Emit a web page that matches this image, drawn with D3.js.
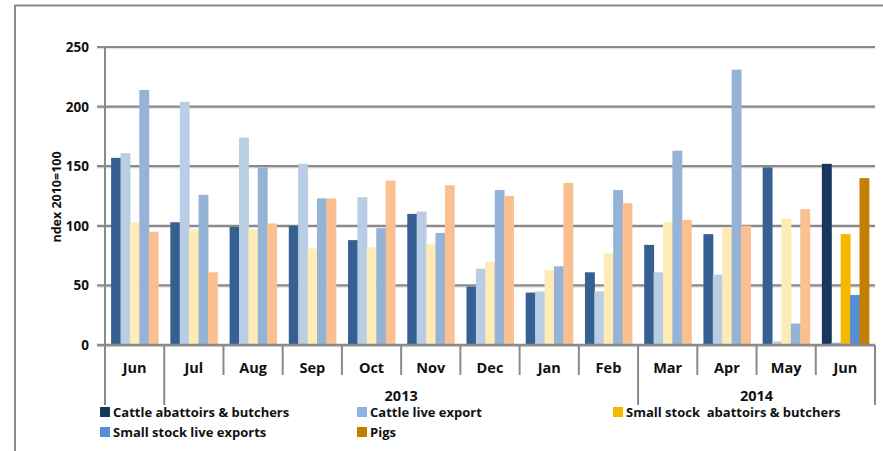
<!DOCTYPE html>
<html>
<head>
<meta charset="utf-8">
<script src="https://cdn.jsdelivr.net/npm/d3@7"></script>
<style>
body { margin: 0; background: #fff; }
text { font-family: "Open Sans", Lato, sans-serif; font-weight: 700; fill: #111; }
</style>
</head>
<body>
<svg id="chart" width="883" height="451"></svg>
<script>
var months = ["Jun", "Jul", "Aug", "Sep", "Oct", "Nov", "Dec", "Jan", "Feb", "Mar", "Apr", "May", "Jun "];
var years = [
	{ label: "", from: 0, to: 1 },
	{ label: "2013", from: 1, to: 9 },
	{ label: "2014", from: 9, to: 13 }
];
var seriesNames = ["Cattle abattoirs & butchers", "Cattle live export", "Small stock  abattoirs & butchers", "Small stock live exports", "Pigs"];
var cattleAbattoirs = [157, 103, 99, 100, 88, 110, 49, 44, 61, 84, 93, 149, 152];
var cattleExport = [161, 204, 174, 152, 124, 112, 64, 45, 45, 61, 59, 3, 2];
var smallAbattoirs = [103, 97, 97, 81, 82, 85, 70, 63, 77, 103, 98, 106, 93];
var smallExport = [214, 126, 149, 123, 98, 94, 130, 66, 130, 163, 231, 18, 42];
var pigs = [95, 61, 102, 123, 138, 134, 125, 136, 119, 105, 100, 114, 140];
var yTicks = [0, 50, 100, 150, 200, 250];
var paleColors = ["#366092", "#b9cde5", "#ffebb5", "#95b3d7", "#fac090"];
var strongColors = ["#17375e", "#8eb4e3", "#f5b800", "#558ed5", "#c47f00"];

var allSeries = [cattleAbattoirs, cattleExport, smallAbattoirs, smallExport, pigs];
var svg = d3.select("#chart");
var plotLeft = 105, plotRight = 875, plotTop = 47, plotBottom = 345;
var grey = "#8a8a8a";

// outer frame
svg.append("line").attr("x1", 15).attr("x2", 15).attr("y1", 5).attr("y2", 451)
	.attr("stroke", grey).attr("stroke-width", 2);
svg.append("line").attr("x1", 14).attr("x2", 883).attr("y1", 5.5).attr("y2", 5.5)
	.attr("stroke", grey).attr("stroke-width", 2);

var y = d3.scaleLinear().domain([0, 250]).range([plotBottom, plotTop]);
var x0 = d3.scaleBand().domain(d3.range(months.length)).range([plotLeft, plotRight]).padding(0);
var x1 = d3.scaleBand().domain(d3.range(5)).range([0, x0.bandwidth()]).paddingInner(0).paddingOuter(0.65);

// gridlines + y labels
var g = svg.append("g");
yTicks.forEach(function(t) {
	g.append("line").attr("x1", plotLeft - 8).attr("x2", plotRight)
		.attr("y1", y(t) + 1.5).attr("y2", y(t) + 1.5)
		.attr("stroke", "#e2e2e2").attr("stroke-width", 1.5);
	g.append("line").attr("x1", plotLeft - 8).attr("x2", plotRight)
		.attr("y1", y(t)).attr("y2", y(t))
		.attr("stroke", grey).attr("stroke-width", 2.2);
	g.append("text").attr("x", plotLeft - 16).attr("y", y(t) + 5)
		.attr("text-anchor", "end").style("font-size", "13.5px").text(t);
});
g.append("line").attr("x1", plotLeft).attr("x2", plotLeft).attr("y1", plotTop).attr("y2", plotBottom)
	.attr("stroke", grey).attr("stroke-width", 2);

// bars
var groups = svg.selectAll(".month")
	.data(months)
	.enter().append("g")
		.attr("class", "month")
		.attr("transform", function(d, i) { return "translate(" + x0(i) + ",0)"; });

groups.selectAll("rect")
	.data(function(d, i) { return allSeries.map(function(s, k) { return { k: k, v: s[i], last: i === months.length - 1 }; }); })
	.enter().append("rect")
		.attr("x", function(d) { return x1(d.k); })
		.attr("width", x1.bandwidth() + 0.5)
		.attr("y", function(d) { return y(d.v); })
		.attr("height", function(d) { return plotBottom - y(d.v); })
		.attr("fill", function(d) { return d.last ? strongColors[d.k] : paleColors[d.k]; });

// bottom axis
svg.append("line").attr("x1", plotLeft - 8).attr("x2", plotRight).attr("y1", plotBottom).attr("y2", plotBottom)
	.attr("stroke", grey).attr("stroke-width", 2.5);

months.forEach(function(m, i) {
	svg.append("text").attr("x", x0(i) + x0.bandwidth() / 2).attr("y", 373)
		.attr("text-anchor", "middle").style("font-size", "14.5px").text(m.trim());
});
d3.range(months.length + 1).forEach(function(i) {
	var xx = i < months.length ? x0(i) : plotRight;
	var isGroup = years.some(function(yr) { return yr.from === i || yr.to === i; });
	svg.append("line").attr("x1", xx).attr("x2", xx).attr("y1", plotBottom).attr("y2", isGroup ? 405 : 375)
		.attr("stroke", grey).attr("stroke-width", 2);
});
years.forEach(function(yr) {
	var xa = x0(yr.from), xb = yr.to < months.length ? x0(yr.to) : plotRight;
	svg.append("text").attr("x", (xa + xb) / 2).attr("y", 401)
		.attr("text-anchor", "middle").style("font-size", "14.5px").text(yr.label);
});

// y axis title
svg.append("text")
	.attr("transform", "translate(61, 197) rotate(-90)")
	.attr("text-anchor", "middle")
	.style("font-size", "12.5px")
	.text("ndex 2010=100");

// legend
var legendPos = [[100, 416], [357, 416], [613, 416], [100, 436], [357, 436]];
seriesNames.forEach(function(name, i) {
	svg.append("rect").attr("x", legendPos[i][0]).attr("y", legendPos[i][1] - 9)
		.attr("width", 10).attr("height", 10).attr("fill", strongColors[i]);
	svg.append("text").attr("x", legendPos[i][0] + 13).attr("y", legendPos[i][1] + 1)
		.style("font-size", "13px").style("white-space", "pre").text(name);
});
</script>
</body>
</html>
